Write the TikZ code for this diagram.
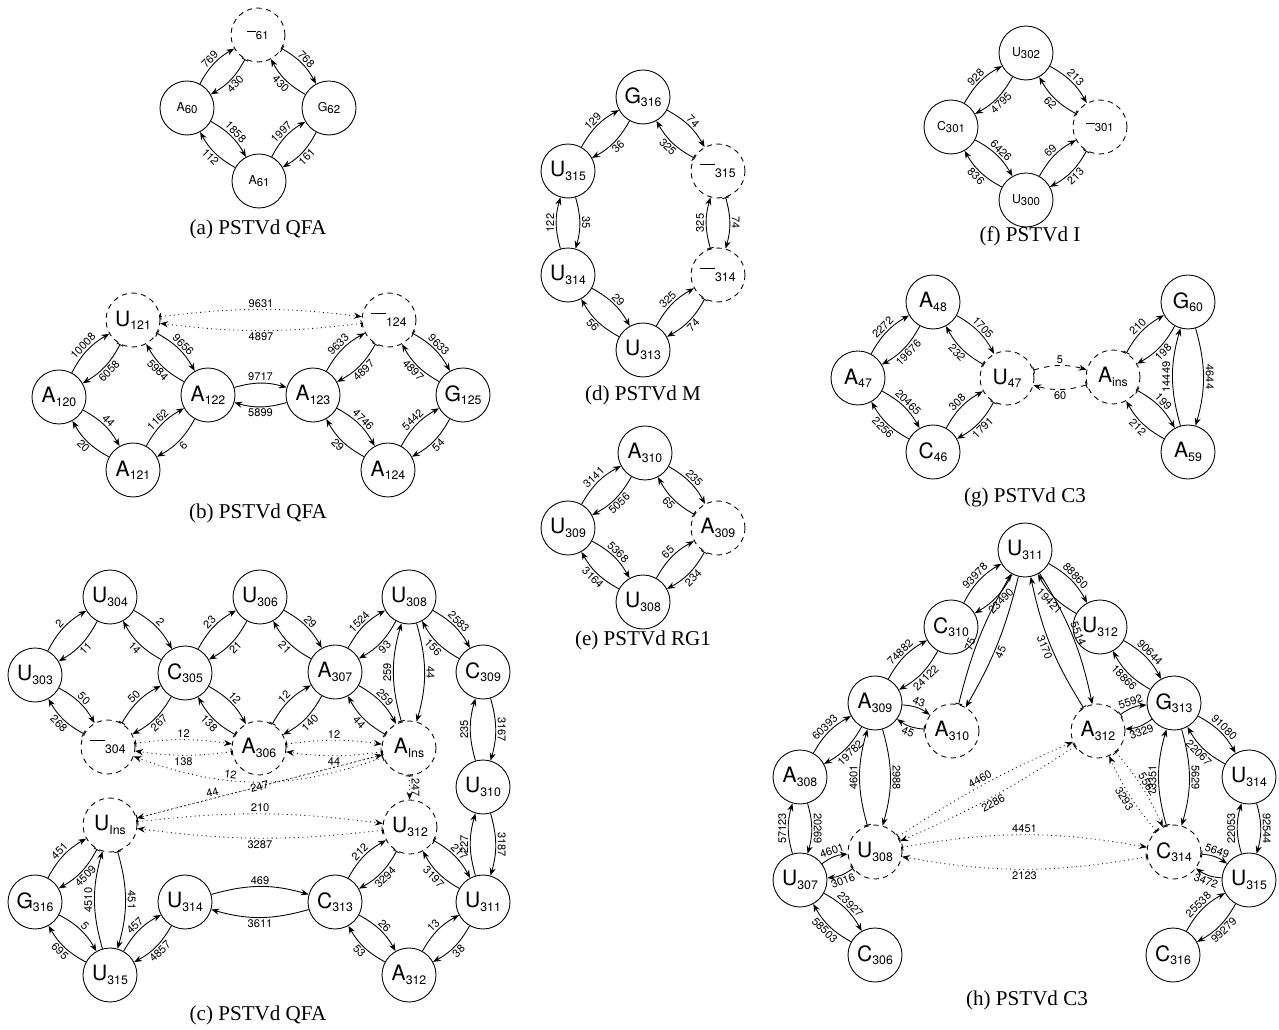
\documentclass[tikz,border=0pt]{standalone}
\usepackage{fontspec}
\setmainfont{Liberation Serif}
\newfontfamily\labfont{TeX Gyre Heros}
\usetikzlibrary{arrows.meta}

\newcommand\bigfont{\labfont\fontsize{12}{12}\selectfont}
\newcommand\smallfont{\labfont\fontsize{7}{7}\selectfont}
\newcommand\numfont{\labfont\fontsize{6.3}{7}\selectfont}
% base with lowered index
\newcommand\nt[2]{#1\raisebox{-0.3ex}{\fontsize{7}{7}\selectfont #2}}
\newcommand\ns[2]{#1\raisebox{-0.35ex}{\fontsize{6.5}{7}\selectfont #2}}
\newcommand\gp{\rule[0.85ex]{0.7em}{0.5pt}}

\tikzset{
  base/.style={circle, draw, line width=0.5pt, minimum size=1.08cm,
               inner sep=0pt, font=\bigfont},
  small/.style={base, font=\smallfont},
  gapnode/.style={dash pattern=on 3pt off 2.5pt},
  tr/.style={-{Stealth[length=4.5pt,width=3.5pt,inset=1.5pt]},
             line width=0.5pt, bend left=16},
  trb/.style={tr, arrows={Bar[width=4pt]-Stealth[length=4.5pt,width=3.5pt,inset=1.5pt]}},
  dot/.style={dotted, bend left=7},
  numon/.style={font=\numfont, sloped, inner sep=1pt},
  num/.style={numon, auto},
  numl/.style={num, swap},
  captext/.style={font=\fontsize{12}{14}\selectfont},
}

\begin{document}
\begin{tikzpicture}[x=0.02cm, y=-0.02cm]
\useasboundingbox (0,0) rectangle (1279,1030);

% (a)
\node[small] (aA60) at (187,108) {\ns{A}{60}};
\node[small, gapnode] (aD61) at (258,35) {\ns{\gp}{61}};
\node[small] (aG62) at (329,108) {\ns{G}{62}};
\node[small] (aA61) at (259,181) {\ns{A}{61}};
\draw[tr] (aA60) to node[num]{769} (aD61);
\draw[trb] (aD61) to node[numl]{430} (aA60);
\draw[trb] (aD61) to node[num]{768} (aG62);
\draw[tr] (aG62) to node[numl]{430} (aD61);
\draw[tr] (aA60) to node[num]{1858} (aA61);
\draw[tr] (aA61) to node[numl]{112} (aA60);
\draw[tr] (aA61) to node[num]{1997} (aG62);
\draw[tr] (aG62) to node[numl]{161} (aA61);
\node[captext] (capa) at (258,229) {(a) PSTVd QFA};

% (b)
\node[base, gapnode] (bU121) at (133,320) {\nt{U}{121}};
\node[base] (bA120) at (59,397) {\nt{A}{120}};
\node[base] (bA122) at (208,395) {\nt{A}{122}};
\node[base] (bA121) at (133,470) {\nt{A}{121}};
\node[base, gapnode] (bD124) at (389,320) {\nt{\gp}{124}};
\node[base] (bA123) at (313,395) {\nt{A}{123}};
\node[base] (bG125) at (463,395) {\nt{G}{125}};
\node[base] (bA124) at (388,470) {\nt{A}{124}};
\draw[tr] (bA120) to node[num]{10008} (bU121);
\draw[trb] (bU121) to node[numl]{6058} (bA120);
\draw[trb] (bU121) to node[num]{9656} (bA122);
\draw[tr] (bA122) to node[numl]{5984} (bU121);
\draw[tr] (bA120) to node[num]{44} (bA121);
\draw[tr] (bA121) to node[numl]{20} (bA120);
\draw[tr] (bA121) to node[num]{1162} (bA122);
\draw[tr] (bA122) to node[numl]{6} (bA121);
\draw[tr] (bA122) to node[num]{9717} (bA123);
\draw[tr] (bA123) to node[numl]{5899} (bA122);
\draw[tr] (bA123) to node[num]{9633} (bD124);
\draw[trb] (bD124) to node[numl]{4897} (bA123);
\draw[trb] (bD124) to node[num]{9633} (bG125);
\draw[tr] (bG125) to node[numl]{4897} (bD124);
\draw[tr] (bA123) to node[num]{4746} (bA124);
\draw[tr] (bA124) to node[numl]{29} (bA123);
\draw[tr] (bA124) to node[num]{5442} (bG125);
\draw[tr] (bG125) to node[numl]{54} (bA124);
\draw[trb, dot] (bU121) to node[num]{9631} (bD124);
\draw[trb, dot] (bD124) to node[numl]{4897} (bU121);
\node[captext] (capb) at (258,513) {(b) PSTVd QFA};

% (c)
\node[base] (cU304) at (110,597) {\nt{U}{304}};
\node[base] (cU303) at (35,675) {\nt{U}{303}};
\node[base] (cC305) at (185,673) {\nt{C}{305}};
\node[base, gapnode] (cD304) at (108,747) {\nt{\gp}{304}};
\node[base, gapnode] (cA306) at (259,748) {\nt{A}{306}};
\node[base] (cU306) at (260,597) {\nt{U}{306}};
\node[base] (cA307) at (335,672) {\nt{A}{307}};
\node[base] (cU308) at (409,597) {\nt{U}{308}};
\node[base] (cC309) at (483,672) {\nt{C}{309}};
\node[base, gapnode] (cAins) at (409,748) {\nt{A}{Ins}};
\node[base] (cU310) at (483,787) {\nt{U}{310}};
\node[base, gapnode] (cUins) at (110,825) {\nt{U}{Ins}};
\node[base] (cG316) at (35,902) {\nt{G}{316}};
\node[base] (cU314) at (185,902) {\nt{U}{314}};
\node[base] (cU315) at (110,975) {\nt{U}{315}};
\node[base, gapnode] (cU312) at (410,827) {\nt{U}{312}};
\node[base] (cC313) at (335,902) {\nt{C}{313}};
\node[base] (cU311) at (483,902) {\nt{U}{311}};
\node[base] (cA312) at (409,975) {\nt{A}{312}};
\draw[tr] (cU303) to node[num]{2} (cU304);
\draw[tr] (cU304) to node[numl]{11} (cU303);
\draw[tr] (cU304) to node[num]{2} (cC305);
\draw[tr] (cC305) to node[numl]{14} (cU304);
\draw[tr] (cU303) to node[num]{50} (cD304);
\draw[trb] (cD304) to node[numl]{268} (cU303);
\draw[trb] (cD304) to node[num]{50} (cC305);
\draw[tr] (cC305) to node[numl]{267} (cD304);
\draw[tr] (cC305) to node[num]{23} (cU306);
\draw[tr] (cU306) to node[numl]{21} (cC305);
\draw[tr] (cC305) to node[num]{12} (cA306);
\draw[trb] (cA306) to node[numl]{138} (cC305);
\draw[tr] (cU306) to node[num]{29} (cA307);
\draw[tr] (cA307) to node[numl]{21} (cU306);
\draw[tr] (cA307) to node[num]{1524} (cU308);
\draw[tr] (cU308) to node[numl]{93} (cA307);
\draw[trb] (cA306) to node[num]{12} (cA307);
\draw[tr] (cA307) to node[numl]{140} (cA306);
\draw[tr] (cA307) to node[num]{259} (cAins);
\draw[trb] (cAins) to node[numl]{44} (cA307);
\draw[trb] (cAins) to node[num]{259} (cU308);
\draw[tr] (cU308) to node[num]{44} (cAins);
\draw[tr] (cU308) to node[num]{2583} (cC309);
\draw[tr] (cC309) to node[numl]{156} (cU308);
\draw[tr] (cU310) to node[num]{235} (cC309);
\draw[tr] (cC309) to node[num]{3167} (cU310);
\draw[tr] (cU311) to node[num]{227} (cU310);
\draw[tr] (cU310) to node[num]{3187} (cU311);
\draw[trb] (cU312) to node[num]{217} (cU311);
\draw[tr] (cU311) to node[numl]{3197} (cU312);
\draw[tr] (cC313) to node[num]{212} (cU312);
\draw[trb] (cU312) to node[numl]{3294} (cC313);
\draw[tr] (cC313) to node[num]{26} (cA312);
\draw[tr] (cA312) to node[numl]{53} (cC313);
\draw[tr] (cA312) to node[num]{13} (cU311);
\draw[tr] (cU311) to node[numl]{38} (cA312);
\draw[tr] (cU314) to node[num]{469} (cC313);
\draw[tr] (cC313) to node[numl]{3611} (cU314);
\draw[tr] (cG316) to node[num]{451} (cUins);
\draw[trb] (cUins) to node[numl]{4509} (cG316);
\draw[tr] (cU315) to node[num]{4510} (cUins);
\draw[trb] (cUins) to node[num]{451} (cU315);
\draw[tr] (cG316) to node[num]{5} (cU315);
\draw[tr] (cU315) to node[numl]{695} (cG316);
\draw[tr] (cU315) to node[num]{457} (cU314);
\draw[tr] (cU314) to node[numl]{4857} (cU315);
\draw[trb, dot, bend left=8] (cD304) to node[num]{12} (cA306);
\draw[trb, dot, bend left=8] (cA306) to node[numl]{138} (cD304);
\draw[trb, dot, bend left=8] (cA306) to node[num]{12} (cAins);
\draw[trb, dot, bend left=8] (cAins) to node[numl]{44} (cA306);
\draw[trb, dot, bend left=20] (cAins) to node[num, pos=0.62]{12} (cD304);
\draw[trb, dot, bend left=0] (cUins) to node[num, pos=0.3]{44} (cAins);
\draw[trb, dot, bend left=0] (cAins) to node[numon, pos=0.5]{247} (cUins);
\draw[trb, dot, bend left=0] (cAins) to node[num]{247} (cU312);
\draw[trb, dot] (cUins) to node[num]{210} (cU312);
\draw[trb, dot] (cU312) to node[numl]{3287} (cUins);
\node[captext] (capc) at (258,1015) {(c) PSTVd QFA};

% (d)
\node[base] (dG316) at (643,97) {\nt{G}{316}};
\node[base] (dU315) at (568,171) {\nt{U}{315}};
\node[base, gapnode] (dD315) at (718,171) {\nt{\gp}{315}};
\node[base] (dU314) at (568,275) {\nt{U}{314}};
\node[base, gapnode] (dD314) at (718,275) {\nt{\gp}{314}};
\node[base] (dU313) at (643,350) {\nt{U}{313}};
\draw[tr] (dU315) to node[num]{129} (dG316);
\draw[tr] (dG316) to node[numl]{36} (dU315);
\draw[tr] (dG316) to node[num]{74} (dD315);
\draw[trb] (dD315) to node[numl]{325} (dG316);
\draw[tr] (dU314) to node[num]{122} (dU315);
\draw[tr] (dU315) to node[num]{35} (dU314);
\draw[trb] (dD314) to node[num]{325} (dD315);
\draw[trb] (dD315) to node[num]{74} (dD314);
\draw[tr] (dU314) to node[num]{29} (dU313);
\draw[tr] (dU313) to node[numl]{56} (dU314);
\draw[tr] (dU313) to node[num]{325} (dD314);
\draw[trb] (dD314) to node[numl]{74} (dU313);
\node[captext] (capd) at (643,395) {(d) PSTVd M};

% (e)
\node[base] (eA310) at (645,453) {\nt{A}{310}};
\node[base] (eU309) at (568,528) {\nt{U}{309}};
\node[base, gapnode] (eA309) at (718,528) {\nt{A}{309}};
\node[base] (eU308) at (643,602) {\nt{U}{308}};
\draw[tr] (eU309) to node[num]{3141} (eA310);
\draw[tr] (eA310) to node[numl]{5056} (eU309);
\draw[tr] (eA310) to node[num]{235} (eA309);
\draw[trb] (eA309) to node[numl]{65} (eA310);
\draw[tr] (eU309) to node[num]{5368} (eU308);
\draw[tr] (eU308) to node[numl]{3164} (eU309);
\draw[tr] (eU308) to node[num]{65} (eA309);
\draw[trb] (eA309) to node[numl]{234} (eU308);
\node[captext] (cape) at (643,640) {(e) PSTVd RG1};

% (f)
\node[small] (fU302) at (1026,53) {\ns{U}{302}};
\node[small] (fC301) at (951,127) {\ns{C}{301}};
\node[small, gapnode] (fD301) at (1100,127) {\ns{\gp}{301}};
\node[small] (fU300) at (1026,200) {\ns{U}{300}};
\draw[tr] (fC301) to node[num]{928} (fU302);
\draw[tr] (fU302) to node[numl]{4795} (fC301);
\draw[tr] (fU302) to node[num]{213} (fD301);
\draw[trb] (fD301) to node[numl]{62} (fU302);
\draw[tr] (fC301) to node[num]{6426} (fU300);
\draw[tr] (fU300) to node[numl]{836} (fC301);
\draw[tr] (fU300) to node[num]{69} (fD301);
\draw[trb] (fD301) to node[numl]{213} (fU300);
\node[captext] (capf) at (1030,236) {(f) PSTVd I};

% (g)
\node[base] (gA48) at (933,302) {\nt{A}{48}};
\node[base] (gA47) at (858,378) {\nt{A}{47}};
\node[base] (gC46) at (933,452) {\nt{C}{46}};
\node[base, gapnode] (gU47) at (1007,378) {\nt{U}{47}};
\node[base, gapnode] (gAins) at (1113,377) {\nt{A}{ins}};
\node[base] (gG60) at (1188,302) {\nt{G}{60}};
\node[base] (gA59) at (1188,452) {\nt{A}{59}};
\draw[tr] (gA47) to node[num]{2272} (gA48);
\draw[tr] (gA48) to node[numl]{19676} (gA47);
\draw[tr] (gA48) to node[num]{1705} (gU47);
\draw[trb] (gU47) to node[numl]{232} (gA48);
\draw[tr] (gA47) to node[num]{20465} (gC46);
\draw[tr] (gC46) to node[numl]{2256} (gA47);
\draw[tr] (gC46) to node[num]{308} (gU47);
\draw[trb] (gU47) to node[numl]{1791} (gC46);
\draw[trb, dashed, bend left=16] (gU47) to node[num]{5} (gAins);
\draw[trb, dashed, bend left=16] (gAins) to node[numl]{60} (gU47);
\draw[trb] (gAins) to node[num]{210} (gG60);
\draw[tr] (gG60) to node[numl]{198} (gAins);
\draw[trb] (gAins) to node[num]{199} (gA59);
\draw[tr] (gA59) to node[numl]{212} (gAins);
\draw[tr] (gA59) to node[num]{14449} (gG60);
\draw[tr] (gG60) to node[num]{4644} (gA59);
\node[captext] (capg) at (1025,497) {(g) PSTVd C3};

% (h)
\node[base] (hU311) at (1025,550) {\nt{U}{311}};
\node[base] (hC310) at (951,627) {\nt{C}{310}};
\node[base] (hU312) at (1100,627) {\nt{U}{312}};
\node[base] (hA309) at (875,703) {\nt{A}{309}};
\node[base, gapnode] (hA310) at (952,731) {\nt{A}{310}};
\node[base, gapnode] (hA312) at (1098,731) {\nt{A}{312}};
\node[base] (hG313) at (1174,703) {\nt{G}{313}};
\node[base] (hA308) at (800,777) {\nt{A}{308}};
\node[base] (hU314) at (1249,777) {\nt{U}{314}};
\node[base, gapnode] (hU308) at (875,852) {\nt{U}{308}};
\node[base, gapnode] (hC314) at (1174,852) {\nt{C}{314}};
\node[base] (hU307) at (800,880) {\nt{U}{307}};
\node[base] (hU315) at (1249,880) {\nt{U}{315}};
\node[base] (hC306) at (875,955) {\nt{C}{306}};
\node[base] (hC316) at (1173,955) {\nt{C}{316}};
\draw[tr] (hC310) to node[num]{93978} (hU311);
\draw[tr] (hU311) to node[numl]{23490} (hC310);
\draw[tr] (hU311) to node[num]{88860} (hU312);
\draw[tr] (hU312) to node[numl]{19421} (hU311);
\draw[tr] (hA309) to node[num]{74882} (hC310);
\draw[tr] (hC310) to node[numl]{24122} (hA309);
\draw[tr] (hU312) to node[num]{90644} (hG313);
\draw[tr] (hG313) to node[numl]{18866} (hU312);
\draw[tr] (hA309) to node[num]{43} (hA310);
\draw[trb] (hA310) to node[numl]{45} (hA309);
\draw[trb, bend left=8] (hA310) to node[num, pos=0.42]{75} (hU311);
\draw[tr, bend left=8] (hU311) to node[numl, pos=0.55]{45} (hA310);
\draw[trb, bend left=10] (hA312) to node[numl]{3170} (hU311);
\draw[tr, bend left=10] (hU311) to node[num]{5514} (hA312);
\draw[trb] (hA312) to node[num]{5592} (hG313);
\draw[tr] (hG313) to node[numl]{3329} (hA312);
\draw[tr] (hA308) to node[num]{60393} (hA309);
\draw[tr] (hA309) to node[numl]{19782} (hA308);
\draw[trb] (hU308) to node[num]{4601} (hA309);
\draw[tr] (hA309) to node[num]{2988} (hU308);
\draw[trb] (hC314) to node[num]{3351} (hG313);
\draw[tr] (hG313) to node[num]{5629} (hC314);
\draw[tr] (hG313) to node[num]{91080} (hU314);
\draw[tr] (hU314) to node[numl]{22067} (hG313);
\draw[tr] (hU307) to node[num]{57123} (hA308);
\draw[tr] (hA308) to node[num]{20269} (hU307);
\draw[tr] (hU315) to node[num]{22053} (hU314);
\draw[tr] (hU314) to node[num]{92544} (hU315);
\draw[tr] (hU307) to node[num]{4601} (hU308);
\draw[trb] (hU308) to node[numl]{3016} (hU307);
\draw[trb] (hC314) to node[num]{5649} (hU315);
\draw[tr] (hU315) to node[numl]{3472} (hC314);
\draw[tr] (hU307) to node[num]{23927} (hC306);
\draw[tr] (hC306) to node[numl]{58503} (hU307);
\draw[tr] (hC316) to node[num]{25538} (hU315);
\draw[tr] (hU315) to node[numl]{99279} (hC316);
\draw[trb, dot, bend left=5] (hU308) to node[num]{4460} (hA312);
\draw[trb, dot, bend left=5] (hA312) to node[numl]{2286} (hU308);
\draw[trb, dot, bend left=10] (hU308) to node[num]{4451} (hC314);
\draw[trb, dot, bend left=10] (hC314) to node[numl]{2123} (hU308);
\draw[trb, dot, bend left=8] (hA312) to node[num]{5562} (hC314);
\draw[trb, dot, bend left=8] (hC314) to node[numl]{3293} (hA312);
\node[captext] (caph) at (1027,1000) {(h) PSTVd C3};
\end{tikzpicture}
\end{document}
